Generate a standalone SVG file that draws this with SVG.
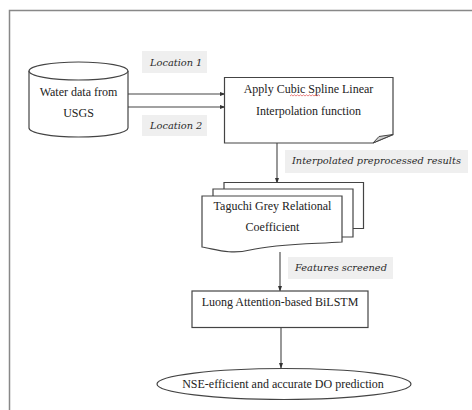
<svg xmlns="http://www.w3.org/2000/svg" width="472" height="410" viewBox="0 0 472 410">
<style>
.shape{fill:#fff;stroke:#444;stroke-width:1.2}
.t{font-family:"Liberation Serif","Times New Roman",serif;font-size:12px;fill:#222;text-anchor:middle}
.lb{fill:#efefef}
.lt{font-family:"DejaVu Serif",serif;font-style:italic;font-size:9.8px;fill:#2a2a2a}
.c{stroke:#444;stroke-width:1.1;fill:none;marker-end:url(#ah)}
</style>
<defs>
<marker id="ah" markerWidth="6" markerHeight="6" refX="5.5" refY="3" orient="auto" markerUnits="userSpaceOnUse">
<path d="M0,0.8 L6,3 L0,5.2 Z" fill="#333"/>
</marker>
</defs>
<rect width="472" height="410" fill="#fff"/>
<path d="M9.5,410 V10.5 H472" fill="none" stroke="#888" stroke-width="1.5"/>

<g id="labels">
<rect class="lb" x="142" y="51" width="65" height="22"/>
<text class="lt" x="150" y="66">Location 1</text>
<rect class="lb" x="142" y="115" width="65" height="21"/>
<text class="lt" x="150" y="129">Location 2</text>
<rect class="lb" x="285" y="150" width="183" height="23"/>
<text class="lt" x="292" y="164">Interpolated preprocessed results</text>
<rect class="lb" x="288" y="257" width="105" height="22"/>
<text class="lt" x="295" y="271">Features screened</text>
</g>

<g id="connectors">
<line class="c" x1="128" y1="94" x2="225" y2="94"/>
<line class="c" x1="128" y1="107" x2="225" y2="107"/>
<line class="c" x1="277" y1="143" x2="277" y2="183"/>
<line class="c" x1="280" y1="252" x2="280" y2="291"/>
<line class="c" x1="281" y1="327" x2="281" y2="368"/>
</g>

<g id="water-data">
<path class="shape" d="M29,71 V128 A49.5,9 0 0 0 128,128 V71"/>
<ellipse class="shape" cx="78.5" cy="71" rx="49.5" ry="9"/>
<text class="t" x="78.5" y="96">Water data from</text>
<text class="t" x="78.5" y="117">USGS</text>
</g>

<g id="cubic-spline">
<path class="shape" d="M224.5,77.5 H393 V134.5 L373,143 H224.5 Z"/>
<path d="M373,143 L379,136.5 L393,134.5 Z" fill="#cfcfcf" stroke="#444" stroke-width="1"/>
<text class="t" x="308.5" y="93">Apply Cubic Spline Linear</text>
<path d="M290,96 l1.5,-1.2 1.5,1.2 1.5,-1.2 1.5,1.2 1.5,-1.2 1.5,1.2 1.5,-1.2 1.5,1.2 1.5,-1.2 1.5,1.2 1.5,-1.2 1.5,1.2 1.5,-1.2 1.5,1.2 1.5,-1.2 1.5,1.2 1.5,-1.2 1.5,1.2 1.5,-1.2 1.5,1.2" fill="none" stroke="#e05050" stroke-width="0.7"/>
<text class="t" x="308.5" y="115">Interpolation function</text>
</g>

<g id="taguchi">
<path class="shape" d="M224,182.5 H363.5 V228.5 H224 Z"/>
<path class="shape" d="M213,189 H353 V237 H213 Z"/>
<path class="shape" d="M202,196 H342 V242 C310,244 275,244 250,250 C230,255 215,249 202,247 Z"/>
<text class="t" x="272.5" y="210">Taguchi Grey Relational</text>
<text class="t" x="272.5" y="231">Coefficient</text>
</g>

<g id="bilstm">
<rect class="shape" x="192" y="291" width="176" height="36.5"/>
<text class="t" x="280" y="306">Luong Attention-based  BiLSTM</text>
</g>

<g id="prediction">
<ellipse class="shape" cx="284" cy="384" rx="127" ry="15.5"/>
<text class="t" x="283" y="388">NSE-efficient and accurate DO prediction</text>
</g>
</svg>
